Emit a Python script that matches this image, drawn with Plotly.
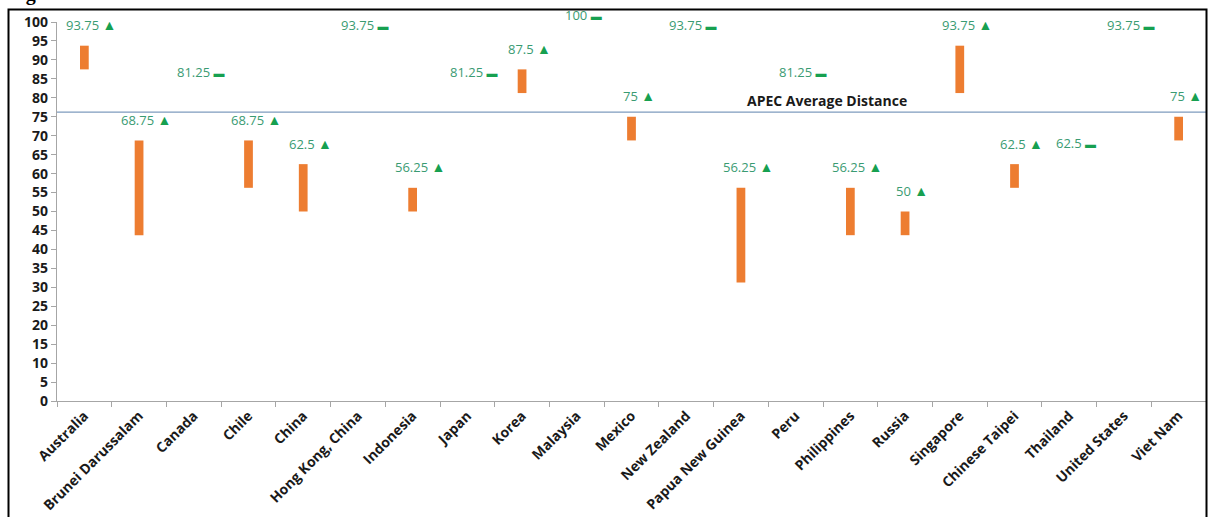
import plotly.graph_objects as go

economies = ["Australia", "Brunei Darussalam", "Canada", "Chile", "China", "Hong Kong, China",
             "Indonesia", "Japan", "Korea", "Malaysia", "Mexico", "New Zealand",
             "Papua New Guinea", "Peru", "Philippines", "Russia", "Singapore",
             "Chinese Taipei", "Thailand", "United States", "Viet Nam"]
previous = [87.5, 43.75, 81.25, 56.25, 50, 93.75, 50, 81.25, 81.25, 100, 68.75, 93.75,
            31.25, 81.25, 43.75, 43.75, 81.25, 56.25, 62.5, 93.75, 68.75]
current = [93.75, 68.75, 81.25, 68.75, 62.5, 93.75, 56.25, 81.25, 87.5, 100, 75, 93.75,
           56.25, 81.25, 56.25, 50, 93.75, 62.5, 62.5, 93.75, 75]
apec_average = 76.2
y_ticks = list(range(0, 101, 5))

W, H = 1208, 517
L, R, T, B = 57, 2, 22, 116
pw, ph = W - L - R, H - T - B
y_max = 100

def px_x(p):
    return (p - L) / pw

def px_y(p):
    return (H - B - p) / ph

fig = go.Figure()
fig.add_trace(go.Bar(
    x=economies,
    y=[c - p for c, p in zip(current, previous)],
    base=previous,
    width=0.16,
    marker=dict(color="#ED7D31", line=dict(width=0)),
    hoverinfo="skip",
    showlegend=False,
))

annotations = []
for name, p, c in zip(economies, previous, current):
    up = c > p
    sym = "▲" if up else "▬"
    num = f"{c:g}"
    sym_size = 14 if up else 11
    # keep label inside the chart frame near the top
    room = (y_max - c) * ph / y_max + 7
    annotations.append(dict(
        x=name, y=c, xref="x", yref="y",
        text=f"<span style='color:#3A9B72'>{num}</span> <span style='color:#17A050;font-size:{sym_size}px'>{sym}</span>",
        showarrow=False, xanchor="center", yanchor="middle",
        xshift=7, yshift=min(21, room),
        font=dict(family="Open Sans", size=13, color="#3A9B72"),
    ))

annotations.append(dict(
    x=0.67, y=apec_average, xref="paper", yref="y",
    text="APEC Average Distance", showarrow=False,
    xanchor="center", yanchor="bottom", yshift=0,
    font=dict(family="Open Sans", size=14, color="#1a1a1a", weight="bold"),
))

annotations.append(dict(
    x=px_x(6), y=px_y(9), xref="paper", yref="paper",
    text="Figure 11: APEC economies' second-round scores and distance to the frontier",
    showarrow=False, xanchor="left", yanchor="bottom", yshift=2,
    font=dict(family="Liberation Serif", size=20, color="black", weight="bold"),
))

shapes = [
    dict(type="line", xref="paper", yref="y", x0=0, x1=1, y0=apec_average, y1=apec_average,
         line=dict(color="#7E9BBE", width=1.3)),
    dict(type="rect", xref="paper", yref="paper",
         x0=px_x(8.5), x1=px_x(1206.5), y0=px_y(530), y1=px_y(9.5),
         line=dict(color="black", width=2), fillcolor="rgba(0,0,0,0)"),
]

fig.update_layout(
    width=W, height=H,
    margin=dict(l=L, r=R, t=T, b=B, autoexpand=False),
    paper_bgcolor="white", plot_bgcolor="white",
    bargap=0.8,
    annotations=annotations,
    shapes=shapes,
    showlegend=False,
)
fig.update_xaxes(
    type="category", tickangle=-45, tickson="boundaries",
    ticks="outside", ticklen=5, tickcolor="#A6A6A6",
    showline=True, linecolor="#A6A6A6", linewidth=1.3,
    showgrid=False, zeroline=False, automargin=False,
    tickfont=dict(family="Open Sans", size=14, color="#1a1a1a", weight="bold"),
    range=[-0.5, len(economies) - 0.5],
)
fig.update_yaxes(
    range=[0, y_max], tickvals=y_ticks, ticktext=[str(v) for v in y_ticks],
    ticks="outside", ticklen=5, tickcolor="#A6A6A6",
    showline=True, linecolor="#A6A6A6", linewidth=1.3,
    showgrid=False, zeroline=False, automargin=False,
    tickfont=dict(family="Open Sans", size=14, color="#1a1a1a", weight="bold"),
)

fig.write_html(
    "out.html",
    config={"displayModeBar": False},
    post_script="document.body.style.margin='0px';document.body.style.overflow='hidden';",
)
